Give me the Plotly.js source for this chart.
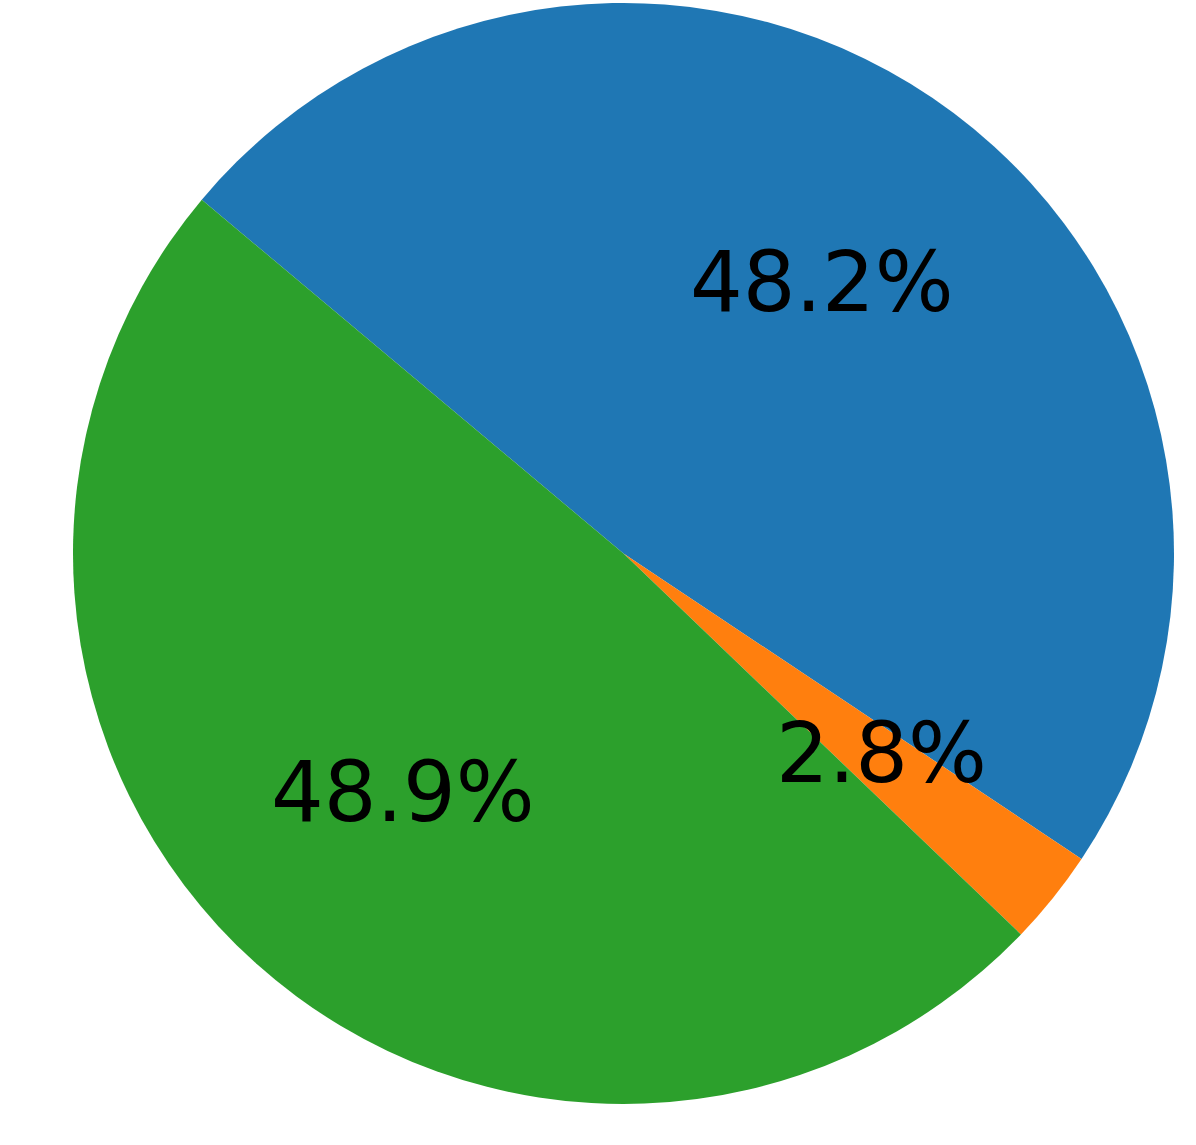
<!DOCTYPE html>
<html>
<head>
<meta charset="utf-8">
<script src="https://cdn.plot.ly/plotly-3.0.1.min.js"></script>
<style>html,body{margin:0;padding:0;background:#fff;}#chart{width:1196px;height:1145px;}</style>
</head>
<body>
<div id="chart"></div>
<script>
const labels = ["A", "B", "C"];
const values = [48.2, 2.8, 48.9];
const colors = ["#1f77b4", "#ff7f0e", "#2ca02c"];

const W = 1196, H = 1145;
const cx = 623.5, cy = 553.5, R = 550.5;
const startAngle = 140; // degrees, math convention; slices go clockwise
const pctDist = 0.6;

const total = values.reduce((a, b) => a + b, 0);
const annotations = [];
let cum = 0;
values.forEach((v) => {
  const mid = (startAngle - (cum + v / 2) / total * 360) * Math.PI / 180;
  cum += v;
  const px = cx + pctDist * R * Math.cos(mid);
  const py = cy - pctDist * R * Math.sin(mid);
  annotations.push({
    x: px / W, y: 1 - py / H, xref: "paper", yref: "paper",
    text: v.toFixed(1) + "%", showarrow: false,
    xanchor: "center", yanchor: "middle", yshift: 7,
    font: {family: "DejaVu Sans", size: 83, color: "#000"}
  });
});

const trace = {
  type: "pie",
  labels: labels,
  values: values,
  sort: false,
  direction: "clockwise",
  rotation: -(startAngle - 90),
  marker: {colors: colors, line: {width: 0}},
  textinfo: "none",
  hoverinfo: "none",
  domain: {x: [(cx - R) / W, (cx + R) / W], y: [1 - (cy + R) / H, 1 - (cy - R) / H]}
};

const layout = {
  width: W, height: H,
  margin: {l: 0, r: 0, t: 0, b: 0},
  paper_bgcolor: "#fff",
  showlegend: false,
  annotations: annotations
};

Plotly.newPlot("chart", [trace], layout, {displayModeBar: false, staticPlot: true});
</script>
</body>
</html>
